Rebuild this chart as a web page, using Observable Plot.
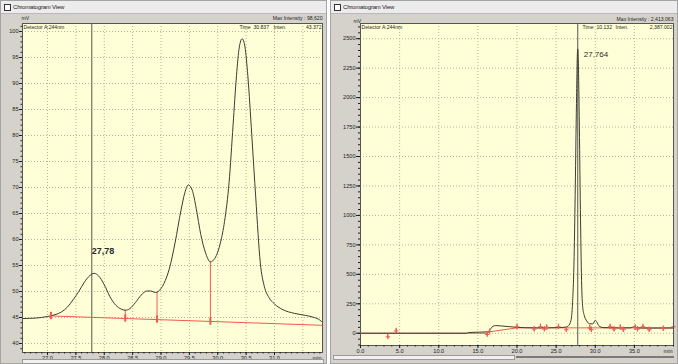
<!DOCTYPE html>
<html><head><meta charset="utf-8">
<script src="https://cdn.jsdelivr.net/npm/d3@7"></script>
<script src="https://cdn.jsdelivr.net/npm/@observablehq/plot@0.6"></script>
<style>
html,body{margin:0;padding:0;background:#fff;}
#root{position:relative;width:678px;height:364px;overflow:hidden;font-family:"Liberation Sans",Arial,sans-serif;}
.panel{position:absolute;top:0;height:364px;background:#d5d2cc;box-shadow:inset 0 0 0 1px #a3a3a3;}
.titlebar{position:absolute;left:1px;right:1px;top:1px;height:12px;background:#ececec;border-bottom:1px solid #b9b9b9;font-size:6px;line-height:12px;color:#222;}
.titlebar .icon{position:absolute;left:3px;top:3px;width:5px;height:5px;border:1px solid #333;background:#fff;}
.titlebar .t{position:absolute;left:12px;top:0;letter-spacing:-0.2px;}
.panel svg{position:absolute;left:0;top:0;}
.scroll{position:absolute;height:3px;background:#f0f0f0;border:1px solid #9a9a9a;}
</style></head>
<body><div id="root">
<div class="panel" id="left" style="left:0;width:327px;"><div class="titlebar"><div class="icon"></div><div class="t">Chromatogram View</div></div></div>
<div class="panel" id="right" style="left:330px;width:348px;"><div class="titlebar"><div class="icon"></div><div class="t">Chromatogram View</div></div></div>
</div>
<script>
// ---------- Left chromatogram (zoom) ----------
const leftTime = [26.56, 26.80, 27.00, 27.15, 27.25, 27.35, 27.45, 27.55, 27.65, 27.75, 27.82, 27.90, 28.00, 28.10, 28.20, 28.30, 28.37, 28.45, 28.55, 28.65, 28.75, 28.82, 28.90, 28.95, 29.05, 29.15, 29.25, 29.35, 29.42, 29.48, 29.55, 29.62, 29.70, 29.78, 29.87, 29.95, 30.05, 30.12, 30.20, 30.27, 30.33, 30.38, 30.43, 30.48, 30.53, 30.60, 30.67, 30.75, 30.82, 30.90, 31.00, 31.15, 31.35, 31.55, 31.70, 31.80, 31.85];
const leftSignal = [44.8, 44.9, 45.2, 45.6, 46.1, 47.0, 48.4, 50.0, 51.8, 53.1, 53.5, 53.0, 51.3, 49.0, 47.4, 46.6, 46.4, 46.7, 47.9, 49.3, 50.1, 50.1, 49.8, 50.0, 51.5, 54.5, 59.5, 65.5, 69.0, 70.5, 69.5, 66.0, 61.0, 57.6, 55.7, 56.4, 59.5, 63.5, 71.0, 82.0, 91.5, 97.0, 98.6, 97.0, 91.5, 80.0, 68.0, 55.5, 51.0, 48.9, 47.6, 46.5, 45.8, 45.4, 45.0, 44.5, 44.0];
const leftBaseTime = [27.06, 31.85];
const leftBaseValue = [45.3, 43.5];
const leftMarkTime = [27.06, 28.37, 28.93, 29.87];
const leftMarkValue = [45.3, 44.8, 44.6, 44.2];
const leftDropTime = [28.37, 28.93, 29.87];
const leftDropBottom = [44.8, 44.6, 44.2];
const leftDropTop = [46.4, 49.9, 55.7];
const leftCursor = [27.78];
const leftPeakLabel = ["27,78"];
const leftPeakLabelValue = [57.8];
const leftXTicks = [27.0, 27.5, 28.0, 28.5, 29.0, 29.5, 30.0, 30.5, 31.0];
const leftXGrid = [27.0, 27.5, 28.0, 28.5, 29.0, 29.5, 30.0, 30.5, 31.0, 31.5];
const leftYTicks = [40, 45, 50, 55, 60, 65, 70, 75, 80, 85, 90, 95, 100];
const leftXMinor = d3.range(266, 319).map(d => d / 10);
const leftYMinor = d3.range(39, 102);
const leftHeader = {detector: "Detector A:244nm", time: "Time  30.837", inten: "Inten.", intenVal: "43.372", max: "Max Intensity : 98,620", unit: "mV"};

// ---------- Right chromatogram (full run) ----------
const rightTime = [0, 13.5, 13.8, 15.5, 16.2, 16.5, 16.9, 17.3, 18.0, 19.0, 20.0, 21.0, 22.5, 24.0, 25.5, 26.2, 26.6, 26.9, 27.1, 27.3, 27.45, 27.6, 27.72, 27.76, 27.82, 27.95, 28.1, 28.25, 28.4, 28.6, 28.9, 29.3, 29.7, 30.0, 30.2, 30.5, 31.0, 33.0, 34.5, 35.0, 35.4, 37.0, 40.0];
const rightSignal = [0, 0, 6, 10, 12, 25, 58, 65, 62, 56, 50, 47, 45, 46, 48, 52, 65, 110, 260, 650, 1250, 1950, 2380, 2413, 2350, 1850, 1050, 450, 220, 150, 105, 80, 80, 110, 95, 60, 48, 45, 46, 55, 45, 44, 45];
const rightBaseTime = [0, 16.2, 16.5, 20.0, 40.0];
const rightBaseValue = [0, 0, 12, 46, 45];
const rightMarkTime = [3.49, 4.56, 16.2, 16.5, 20.0, 22.2, 23.0, 23.5, 23.8, 25.3, 26.3, 29.3, 29.5, 31.9, 32.4, 33.2, 33.6, 35.1, 35.4, 36.1, 36.9, 38.7, 40.0];
const rightMarkValue = [-30, 20, -10, 15, 55, 35, 55, 35, 50, 55, 30, 45, 30, 55, 35, 50, 30, 50, 35, 55, 30, 40, 55];
const rightCursor = [27.764];
const rightPeakLabel = ["27,764"];
const rightPeakLabelValue = [2366];
const rightXTicks = [0, 5, 10, 15, 20, 25, 30, 35];
const rightYTicks = [0, 250, 500, 750, 1000, 1250, 1500, 1750, 2000, 2250, 2500];
const rightXMinor = d3.range(0, 41);
const rightYMinor = d3.range(-100, 2601, 50);
const rightHeader = {detector: "Detector A:244nm", time: "Time  10.132", inten: "Inten.", intenVal: "2,387.002", max: "Max Intensity : 2,413,063", unit: "mV"};

const YELLOW = "#ffffd7";
const CURVE = "#3c3c32";
const RED = "#f05a50";
const GRID = "#b4b49c";
const TXT = "#1e1e1e";
const FS = 5.6;
const HFS = 5.1;

function headerMarks(h, o) {
  return [
    Plot.text([h.detector], {frameAnchor: "top-left", text: d => d, dx: 1, dy: 3.5, lineAnchor: "middle", textAnchor: "start", fontSize: HFS, fill: TXT}),
    Plot.text([h.time], {frameAnchor: "top-right", text: d => d, dx: o.time, dy: 3.5, lineAnchor: "middle", textAnchor: "start", fontSize: HFS, fill: TXT}),
    Plot.text([h.inten], {frameAnchor: "top-right", text: d => d, dx: o.inten, dy: 3.5, lineAnchor: "middle", textAnchor: "start", fontSize: HFS, fill: TXT}),
    Plot.text([h.intenVal], {frameAnchor: "top-right", text: d => d, dx: -1, dy: 3.5, lineAnchor: "middle", textAnchor: "end", fontSize: HFS, fill: TXT}),
    Plot.text([h.max], {frameAnchor: "top-right", text: d => d, dx: 0, dy: o.maxDy, lineAnchor: "middle", textAnchor: "end", fontSize: HFS, fill: TXT}),
    Plot.text([h.unit], {frameAnchor: "top-left", text: d => d, dx: o.unitDx, dy: o.unitDy, lineAnchor: "middle", textAnchor: "start", fontSize: HFS, fill: TXT}),
    Plot.text(["min"], {frameAnchor: "bottom-right", text: d => d, dx: -1, dy: 5.5, lineAnchor: "middle", textAnchor: "end", fontSize: FS, fill: TXT})
  ];
}

const styleOpts = {background: "transparent", fontFamily: "Liberation Sans, Arial, sans-serif", overflow: "visible"};

const leftPlot = Plot.plot({
  width: 327, height: 364,
  marginLeft: 22, marginRight: 5, marginTop: 23, marginBottom: 12,
  style: styleOpts,
  x: {domain: [26.559, 31.846], label: null},
  y: {domain: [38.27, 101.54], label: null},
  marks: [
    Plot.frame({fill: YELLOW, stroke: null}),
    Plot.gridX(leftXGrid, {stroke: GRID, strokeOpacity: 1, strokeDasharray: "1,2"}),
    Plot.gridY(leftYTicks, {stroke: GRID, strokeOpacity: 1, strokeDasharray: "1,2"}),
    Plot.ruleX(leftCursor, {x: d => d, stroke: "#555", strokeWidth: 1}),
    Plot.line(leftBaseValue, {x: leftBaseTime, y: leftBaseValue, stroke: RED, strokeWidth: 1}),
    Plot.ruleX(leftDropTime, {x: leftDropTime, y1: leftDropBottom, y2: leftDropTop, stroke: RED, strokeWidth: 1}),
    Plot.line(leftSignal, {x: leftTime, y: leftSignal, stroke: CURVE, strokeWidth: 1, curve: "monotone-x"}),
    Plot.ruleX(leftMarkTime, {x: leftMarkTime, y1: leftMarkValue.map(v => v - 0.7), y2: leftMarkValue.map(v => v + 0.7), stroke: RED, strokeWidth: 2}),
    Plot.text(leftPeakLabel, {x: leftCursor, y: leftPeakLabelValue, text: d => d, textAnchor: "start", dx: 0, fontSize: 9, fill: "#2a2a2a", fontWeight: 600}),
    Plot.frame({stroke: "#555", strokeWidth: 1}),
    Plot.axisY(leftYTicks, {anchor: "left", tickSize: 3, tickPadding: 1, fontSize: FS, color: TXT, label: null, tickFormat: d => String(d)}),
    Plot.axisY(leftYMinor, {anchor: "left", tickSize: 1.5, tickFormat: () => "", label: null, color: TXT}),
    Plot.axisX(leftXTicks, {anchor: "bottom", tickSize: 3, tickPadding: 1, fontSize: FS, color: TXT, tickFormat: d => d.toFixed(1), label: null}),
    Plot.axisX(leftXMinor, {anchor: "bottom", tickSize: 1.5, tickFormat: () => "", label: null, color: TXT}),
    ...headerMarks(leftHeader, {time: -83, inten: -49, maxDy: -5, unitDx: -1, unitDy: -5})
  ]
});
document.getElementById("left").appendChild(leftPlot);

const rightPlot = Plot.plot({
  width: 348, height: 364,
  marginLeft: 30, marginRight: 5, marginTop: 23, marginBottom: 19,
  style: styleOpts,
  x: {domain: [0, 40], label: null},
  y: {domain: [-104, 2629], label: null},
  marks: [
    Plot.frame({fill: YELLOW, stroke: null}),
    Plot.gridX(rightXTicks, {stroke: GRID, strokeOpacity: 1, strokeDasharray: "1,2"}),
    Plot.gridY(rightYTicks, {stroke: GRID, strokeOpacity: 1, strokeDasharray: "1,2"}),
    Plot.ruleX(rightCursor, {x: d => d, stroke: "#555", strokeWidth: 1}),
    Plot.line(rightBaseValue, {x: rightBaseTime, y: rightBaseValue, stroke: RED, strokeWidth: 1}),
    Plot.line(rightSignal, {x: rightTime, y: rightSignal, stroke: CURVE, strokeWidth: 1, curve: "monotone-x"}),
    Plot.ruleX(rightMarkTime, {x: rightMarkTime, y1: rightMarkValue.map(v => v - 22), y2: rightMarkValue.map(v => v + 22), stroke: RED, strokeWidth: 1.2}),
    Plot.dot(rightMarkTime, {x: rightMarkTime, y: rightMarkValue, symbol: "plus", r: 1.6, stroke: RED, strokeWidth: 1}),
    Plot.text(rightPeakLabel, {x: rightCursor, y: rightPeakLabelValue, text: d => d, textAnchor: "start", dx: 6, fontSize: 8, fill: "#2a2a2a"}),
    Plot.frame({stroke: "#555", strokeWidth: 1}),
    Plot.axisY(rightYTicks, {anchor: "left", tickSize: 4, tickPadding: 1, fontSize: FS, color: TXT, label: null, tickFormat: d => String(d)}),
    Plot.axisY(rightYMinor, {anchor: "left", tickSize: 2, tickFormat: () => "", label: null, color: TXT}),
    Plot.axisX(rightXTicks, {anchor: "bottom", tickSize: 3, tickPadding: 1, fontSize: FS, color: TXT, tickFormat: d => d.toFixed(1), label: null}),
    Plot.axisX(rightXMinor, {anchor: "bottom", tickSize: 1.5, tickFormat: () => "", label: null, color: TXT}),
    ...headerMarks(rightHeader, {time: -91, inten: -58, maxDy: -4, unitDx: -7, unitDy: -2})
  ]
});
document.getElementById("right").appendChild(rightPlot);

// scroll bars at the bottom of the windows
const sl = document.createElement("div"); sl.className = "scroll";
Object.assign(sl.style, {left: "22px", width: "300px", top: "359px"});
document.getElementById("left").appendChild(sl);
const sr = document.createElement("div"); sr.className = "scroll";
Object.assign(sr.style, {left: "3px", width: "180px", top: "355px"});
document.getElementById("right").appendChild(sr);
const sr2 = document.createElement("div");
Object.assign(sr2.style, {position: "absolute", left: "186px", width: "158px", top: "356px", height: "2px", background: "#7a7a7a"});
document.getElementById("right").appendChild(sr2);
</script>
</body></html>
